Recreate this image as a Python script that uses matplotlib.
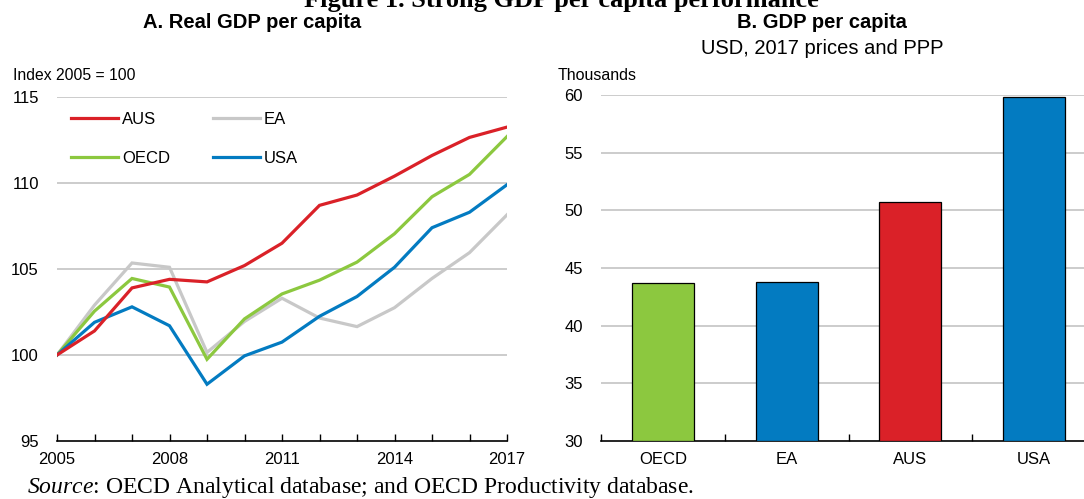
import matplotlib.pyplot as plt
import numpy as np
from matplotlib.ticker import MultipleLocator

plt.rcParams['font.family'] = ['Liberation Sans', 'DejaVu Sans']
plt.rcParams['mathtext.fontset'] = 'custom'
plt.rcParams['mathtext.it'] = 'Liberation Serif:italic'
plt.rcParams['mathtext.rm'] = 'Liberation Serif'

years = list(range(2005, 2018))
aus = [100, 101.4, 103.9, 104.4, 104.25, 105.2, 106.5, 108.7, 109.3, 110.4, 111.6, 112.65, 113.25]
ea = [100, 102.9, 105.35, 105.1, 100.15, 101.95, 103.3, 102.15, 101.65, 102.75, 104.45, 105.95, 108.15]
oecd = [100, 102.55, 104.45, 103.95, 99.75, 102.1, 103.55, 104.35, 105.4, 107.05, 109.2, 110.5, 112.7]
usa = [100, 101.9, 102.8, 101.7, 98.3, 99.95, 100.75, 102.25, 103.4, 105.1, 107.4, 108.3, 109.9]

bar_labels = ["OECD", "EA", "AUS", "USA"]
bar_values = [43.7, 43.8, 50.7, 59.8]

RED = "#DA2128"
GREY = "#C8C8C8"
GREEN = "#8CC83F"
BLUE = "#037BC1"
GRID = "#C8C8C8"

fig = plt.figure(figsize=(10.84, 4.99), dpi=100)
W, H = 1084, 499


def px(x, y):
    return x / W, 1 - y / H


ax0 = fig.add_axes([57 / W, 1 - 441 / H, 450 / W, 344 / H])
ax1 = fig.add_axes([601 / W, 1 - 441 / H, 495 / W, 346 / H])

# panel A
lines = {}
for name, vals, col in [("EA", ea, GREY), ("OECD", oecd, GREEN), ("USA", usa, BLUE), ("AUS", aus, RED)]:
    lines[name], = ax0.plot(years, vals, color=col, lw=2.3, solid_joinstyle='miter', zorder=3)
ax0.set_xlim(2005, 2017)
ax0.set_ylim(95, 115)
ax0.set_yticks([95, 100, 105, 110, 115])
ax0.set_xticks([2005, 2008, 2011, 2014, 2017])
ax0.xaxis.set_minor_locator(MultipleLocator(1))
for yv in [100, 105, 110, 115]:
    ax0.axhline(yv, color=GRID, lw=1.3, zorder=1)
ax0.legend([lines[k] for k in ["AUS", "OECD", "EA", "USA"]], ["AUS", "OECD", "EA", "USA"],
           ncol=2, loc='upper left', bbox_to_anchor=(0.031, 0.956), frameon=False, fontsize=12,
           handlelength=2.8, handletextpad=0.25, columnspacing=2.6, labelspacing=1.45,
           borderaxespad=0, borderpad=0)

# panel B
xb = np.arange(len(bar_labels))
ax1.bar(xb, np.array(bar_values) - 30, bottom=30, width=0.5, color=[GREEN, BLUE, RED, BLUE],
        edgecolor='black', linewidth=0.9, zorder=3)
ax1.set_xlim(-0.5, 3.5)
ax1.set_ylim(30, 60)
ax1.set_yticks(range(30, 61, 5))
for yv in range(35, 61, 5):
    ax1.axhline(yv, color=GRID, lw=1.3, zorder=1)
ax1.set_xticks(xb)
ax1.set_xticklabels(bar_labels)
ax1.set_xticks([-0.5, 0.5, 1.5, 2.5, 3.5], minor=True)

for ax in (ax0, ax1):
    for s in ["top", "right", "left"]:
        ax.spines[s].set_visible(False)
    ax.spines["bottom"].set_linewidth(1.2)
    ax.tick_params(axis='y', length=0, pad=13, labelsize=12)
    ax.tick_params(axis='x', which='both', direction='in', length=5, width=1, labelsize=12, pad=8)
ax1.tick_params(axis='x', which='major', length=0, pad=8)

fig.text(*px(561, 7), "Figure 1. Strong GDP per capita performance", ha='center', va='baseline',
         fontsize=19, fontweight='bold', family='Liberation Serif')
fig.text(*px(252, 23), "A. Real GDP per capita", ha='center', va='center', fontsize=14.5, fontweight='bold')
fig.text(*px(822, 23), "B. GDP per capita", ha='center', va='center', fontsize=14.5, fontweight='bold')
fig.text(*px(822, 48), "USD, 2017 prices and PPP", ha='center', va='center', fontsize=14.5)
fig.text(*px(13, 75), "Index 2005 = 100", ha='left', va='center', fontsize=11.3)
fig.text(*px(558, 75), "Thousands", ha='left', va='center', fontsize=11.5)
fig.text(*px(27, 488), r"$\it{Source}$: OECD Analytical database; and OECD Productivity database.",
         ha='left', va='center', fontsize=17, family='Liberation Serif')

fig.savefig("out.png", dpi=100)
